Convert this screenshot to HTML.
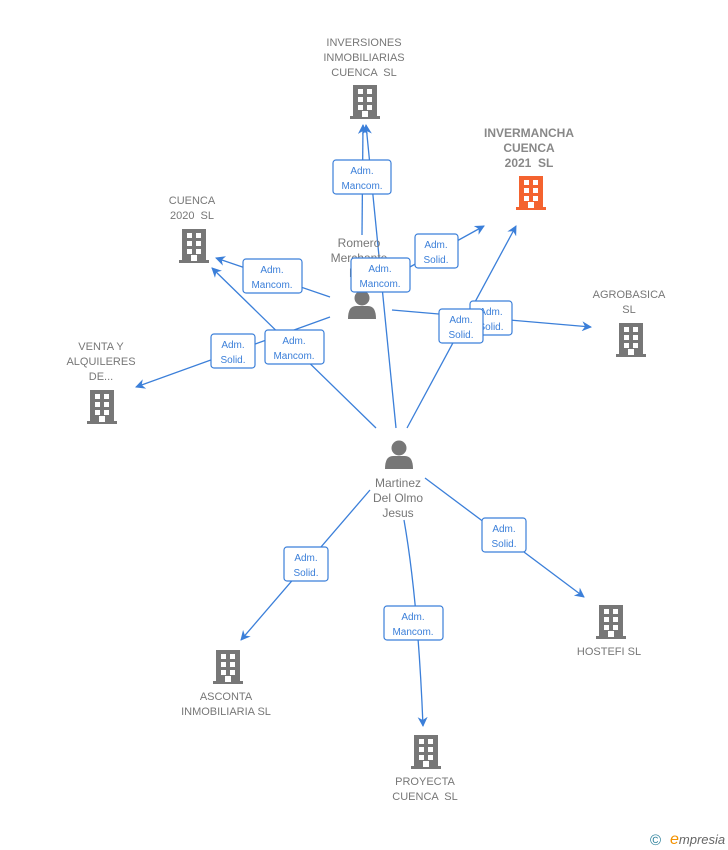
<!DOCTYPE html>
<html><head><meta charset="utf-8"><style>
html,body{margin:0;padding:0;background:#fff;width:728px;height:850px;overflow:hidden}
svg{display:block}
text{font-family:"Liberation Sans",Arial,sans-serif;white-space:pre}
.n{font-size:11px;fill:#777;text-anchor:middle}
.b{font-weight:bold;font-size:12px;fill:#888}
.l{font-size:10px;fill:#3b7fd9;text-anchor:middle}
.e{stroke:#3b7fd9;stroke-width:1.3;fill:none}
.box{fill:#fff;stroke:#3b7fd9;stroke-width:1.2}
</style></head><body>
<svg width="728" height="850" viewBox="0 0 728 850">
<defs>
<marker id="a" markerWidth="10" markerHeight="10" refX="9" refY="5" orient="auto" markerUnits="userSpaceOnUse"><path d="M0,0 L10,5 L0,10 L3,5 z" fill="#3b7fd9"/></marker>
<g id="bld"><rect x="-12" y="-17" width="24" height="32" /><rect x="-15" y="14" width="30" height="3"/>
<g fill="#fff"><rect x="-7" y="-13" width="5" height="5"/><rect x="2" y="-13" width="5" height="5"/><rect x="-7" y="-5" width="5" height="5"/><rect x="2" y="-5" width="5" height="5"/><rect x="-7" y="3" width="5" height="5"/><rect x="2" y="3" width="5" height="5"/><rect x="-3" y="9" width="6" height="6" fill="#fff"/></g></g>
<g id="per"><circle cx="0" cy="-7" r="7.5"/><path d="M-14,14 Q-14,1 -6,1 L6,1 Q14,1 14,14 z"/></g>
</defs>

<g class="e">
<line x1="362" y1="235" x2="363" y2="125" marker-end="url(#a)"/>
<line x1="396" y1="428" x2="366" y2="125" marker-end="url(#a)"/>
<line x1="330" y1="297" x2="216" y2="258" marker-end="url(#a)"/>
<line x1="390" y1="278" x2="484" y2="226" marker-end="url(#a)"/>
<line x1="392" y1="310" x2="591" y2="327" marker-end="url(#a)"/>
<line x1="330" y1="317" x2="136" y2="387" marker-end="url(#a)"/>
<line x1="376" y1="428" x2="212" y2="268" marker-end="url(#a)"/>
<line x1="407" y1="428" x2="516" y2="226" marker-end="url(#a)"/>
<line x1="425" y1="478" x2="584" y2="597" marker-end="url(#a)"/>
<line x1="370" y1="490" x2="241" y2="640" marker-end="url(#a)"/>
<path d="M404,520 Q418,600 423,726" marker-end="url(#a)"/>
</g>

<g fill="#777">
<use href="#bld" x="365" y="102"/>
<use href="#bld" x="194" y="246"/>
<use href="#bld" x="631" y="340"/>
<use href="#bld" x="102" y="407"/>
<use href="#bld" x="611" y="622"/>
<use href="#bld" x="228" y="667"/>
<use href="#bld" x="426" y="752"/>
<use href="#per" x="362" y="305"/>
<use href="#per" x="399" y="455"/>
</g>
<use href="#bld" x="531" y="193" fill="#f4632f"/>

<text class="n" x="364" y="46">INVERSIONES</text>
<text class="n" x="364" y="61">INMOBILIARIAS</text>
<text class="n" x="364" y="76">CUENCA  SL</text>
<text class="n b" x="529" y="137">INVERMANCHA</text>
<text class="n b" x="529" y="152">CUENCA</text>
<text class="n b" x="529" y="167">2021  SL</text>
<text class="n" x="192" y="204">CUENCA</text>
<text class="n" x="192" y="219">2020  SL</text>
<text class="n" x="629" y="298">AGROBASICA</text>
<text class="n" x="629" y="313">SL</text>
<text class="n" x="101" y="350">VENTA Y</text>
<text class="n" x="101" y="365">ALQUILERES</text>
<text class="n" x="101" y="380">DE...</text>
<text class="n" x="609" y="655">HOSTEFI SL</text>
<text class="n" x="226" y="700">ASCONTA</text>
<text class="n" x="226" y="715">INMOBILIARIA SL</text>
<text class="n" x="425" y="785">PROYECTA</text>
<text class="n" x="425" y="800">CUENCA  SL</text>
<text class="n" x="359" y="247" style="font-size:12px">Romero</text>
<text class="n" x="359" y="262" style="font-size:12px">Merchante</text>
<text class="n" x="359" y="277" style="font-size:12px">M...</text>
<text class="n" x="398" y="487" style="font-size:12px">Martinez</text>
<text class="n" x="398" y="502" style="font-size:12px">Del Olmo</text>
<text class="n" x="398" y="517" style="font-size:12px">Jesus</text>

<g>
<rect class="box" x="333" y="160" width="58" height="34" rx="3"/><text class="l" x="362" y="174">Adm.</text><text class="l" x="362" y="189">Mancom.</text>
<rect class="box" x="243" y="259" width="59" height="34" rx="3"/><text class="l" x="272" y="273">Adm.</text><text class="l" x="272" y="288">Mancom.</text>
<rect class="box" x="415" y="234" width="43" height="34" rx="3"/><text class="l" x="436" y="248">Adm.</text><text class="l" x="436" y="263">Solid.</text>
<rect class="box" x="351" y="258" width="59" height="34" rx="3"/><text class="l" x="380" y="272">Adm.</text><text class="l" x="380" y="287">Mancom.</text>
<rect class="box" x="470" y="301" width="42" height="34" rx="3"/><text class="l" x="491" y="315">Adm.</text><text class="l" x="491" y="330">Solid.</text>
<rect class="box" x="439" y="309" width="44" height="34" rx="3"/><text class="l" x="461" y="323">Adm.</text><text class="l" x="461" y="338">Solid.</text>
<rect class="box" x="211" y="334" width="44" height="34" rx="3"/><text class="l" x="233" y="348">Adm.</text><text class="l" x="233" y="363">Solid.</text>
<rect class="box" x="265" y="330" width="59" height="34" rx="3"/><text class="l" x="294" y="344">Adm.</text><text class="l" x="294" y="359">Mancom.</text>
<rect class="box" x="482" y="518" width="44" height="34" rx="3"/><text class="l" x="504" y="532">Adm.</text><text class="l" x="504" y="547">Solid.</text>
<rect class="box" x="284" y="547" width="44" height="34" rx="3"/><text class="l" x="306" y="561">Adm.</text><text class="l" x="306" y="576">Solid.</text>
<rect class="box" x="384" y="606" width="59" height="34" rx="3"/><text class="l" x="413" y="620">Adm.</text><text class="l" x="413" y="635">Mancom.</text>
</g>

<text x="650" y="845" style="font-size:15px;fill:#2a7f9a">©</text>
<text x="670" y="844" style="font-size:13px;fill:#666;font-style:italic"><tspan fill="#f39200" style="font-size:16px">e</tspan>mpresia</text>
</svg>
</body></html>
